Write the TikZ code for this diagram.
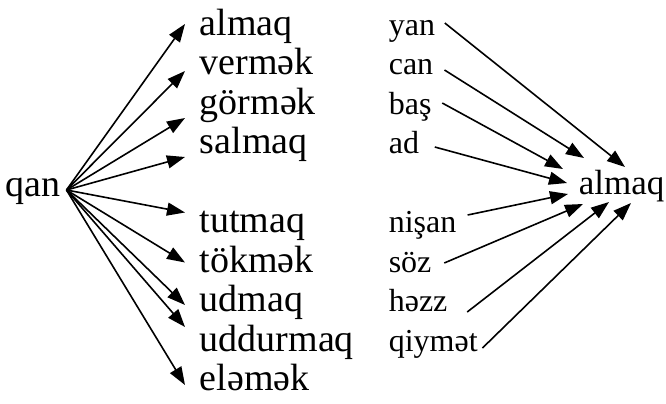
\documentclass[tikz,border=0pt]{standalone}
\usepackage{fontspec}
\setmainfont{Liberation Serif}
\usetikzlibrary{arrows.meta}
\tikzset{
  lword/.style={anchor=base west,inner sep=0pt,font=\fontsize{19}{22}\selectfont},
  mword/.style={anchor=base west,inner sep=0pt,font=\fontsize{16}{19}\selectfont},
  rword/.style={anchor=base west,inner sep=0pt,font=\fontsize{17.5}{21}\selectfont},
}
\begin{document}
\begin{tikzpicture}[x=0.5pt,y=-0.5pt,->,>={Triangle[length=9pt,width=6.5pt]},line width=0.8pt]
            \useasboundingbox (0,0) rectangle (666,403);
            % left fan
            \node[lword] (qan) at (5,196) {qan};
            \node[lword] (lalmaq) at (199,35) {almaq};
            \node[lword] (verme) at (199,74.5) {vermək};
            \node[lword] (gorme) at (199,114) {görmək};
            \node[lword] (salmaq) at (199,153.5) {salmaq};
            \node[lword] (tutmaq) at (199,232.5) {tutmaq};
            \node[lword] (tokme) at (199,272) {tökmək};
            \node[lword] (udmaq) at (199,311.5) {udmaq};
            \node[lword] (uddur) at (199,351) {uddurmaq};
            \node[lword] (eleme) at (199,390.5) {eləmək};
            \coordinate (qs) at ([shift={(5,-6)}]qan.base east);
            \draw (qs)--([shift={(-14,-11)}]lalmaq.base west);
            \draw (qs)--([shift={(-14,-3.5)}]verme.base west);
            \draw (qs)--([shift={(-14,4)}]gorme.base west);
            \draw (qs)--([shift={(-14,3.5)}]salmaq.base west);
            \draw (qs)--([shift={(-14,-20)}]tutmaq.base west);
            \draw (qs)--([shift={(-14,-9.5)}]tokme.base west);
            \draw (qs)--([shift={(-14,-6.5)}]udmaq.base west);
            \draw (qs)--([shift={(-14,-24)}]uddur.base west);
            \draw (qs)--([shift={(-14,-5.5)}]eleme.base west);
            % right fan
            \node[rword] (ralmaq) at (578,194) {almaq};
            \node[mword] (yan) at (388,35) {yan};
            \node[mword] (can) at (388,74.5) {can};
            \node[mword] (bas) at (388,114) {baş};
            \node[mword] (ad) at (388,153.5) {ad};
            \node[mword] (nisan) at (388,232.5) {nişan};
            \node[mword] (soz) at (388,272) {söz};
            \node[mword] (hezz) at (388,311.5) {həzz};
            \node[mword] (qiymet) at (388,351) {qiymət};
            \draw ([shift={(9,-12)}]yan.base east)--([shift={(47,-27)}]ralmaq.base west);
            \draw ([shift={(10.5,-4.5)}]can.base east)--([shift={(6,-36)}]ralmaq.base west);
            \draw ([shift={(10,-11)}]bas.base east)--([shift={(-15,-25)}]ralmaq.base west);
            \draw ([shift={(15,-6.5)}]ad.base east)--([shift={(-11,-11)}]ralmaq.base west);
            \draw ([shift={(10.5,-17.5)}]nisan.base east)--([shift={(-10,0)}]ralmaq.base west);
            \draw ([shift={(12,-9)}]soz.base east)--([shift={(5,10)}]ralmaq.base west);
            \draw ([shift={(19,0.5)}]hezz.base east)--([shift={(31,8)}]ralmaq.base west);
            \draw ([shift={(4,-3)}]qiymet.base east)--([shift={(53,9)}]ralmaq.base west);
        \end{tikzpicture}
\end{document}
